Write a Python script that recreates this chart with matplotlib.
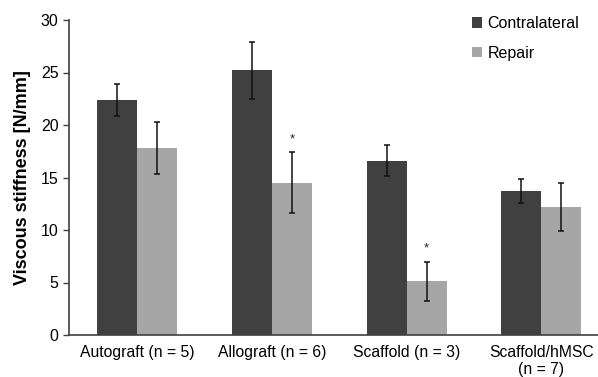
import matplotlib
matplotlib.use("Agg")
import matplotlib.pyplot as plt
import numpy as np

plt.rcParams['font.family'] = ['Liberation Sans', 'DejaVu Sans']

# Data
groups = ["Autograft (n = 5)", "Allograft (n = 6)", "Scaffold (n = 3)", "Scaffold/hMSC\n(n = 7)"]
contralateral = [22.4, 25.2, 16.6, 13.7]
contralateral_err = [1.5, 2.75, 1.5, 1.15]
repair = [17.8, 14.5, 5.1, 12.2]
repair_err = [2.5, 2.9, 1.9, 2.25]
significant = [False, True, True, False]

dark = "#404040"
light = "#a6a6a6"

fig = plt.figure(figsize=(5.98, 3.77), dpi=100)
ax = fig.add_axes([69 / 598, 42 / 377, 529 / 598, 315 / 377])

x = np.arange(len(groups))
w = 0.297

ax.bar(x - w / 2, contralateral, w, color=dark, label="Contralateral",
       yerr=contralateral_err, error_kw=dict(ecolor="#111111", elinewidth=1.1, capsize=2.5, capthick=1.1))
ax.bar(x + w / 2, repair, w, color=light, label="Repair",
       yerr=repair_err, error_kw=dict(ecolor="#111111", elinewidth=1.1, capsize=2.5, capthick=1.1))

# significance markers
for i, sig in enumerate(significant):
    if sig:
        ax.text(x[i] + w / 2, repair[i] + repair_err[i] + 1.2, "*", ha="center", va="center",
                fontsize=9.5, color="#222222")

ax.set_xlim(-0.505, 3.42)
ax.set_ylim(0, 30)
ax.set_yticks([0, 5, 10, 15, 20, 25, 30])
ax.set_xticks(x)
ax.set_xticklabels(groups, fontsize=11.3)
ax.tick_params(axis="x", length=0, pad=7)
ax.tick_params(axis="y", labelsize=11.5, length=4, width=1, color="#404040", direction="out")

for s in ["top", "right"]:
    ax.spines[s].set_visible(False)
for s in ["left", "bottom"]:
    ax.spines[s].set_color("#404040")
    ax.spines[s].set_linewidth(1.2)

ax.set_ylabel("Viscous stiffness [N/mm]", fontsize=13, fontweight="bold", labelpad=7)

ax.legend(loc="upper left", bbox_to_anchor=(0.735, 1.058), frameon=False, fontsize=11.5,
          handlelength=0.6, handleheight=0.6, handletextpad=0.35, labelspacing=0.92)

fig.savefig("out.png", dpi=100)
